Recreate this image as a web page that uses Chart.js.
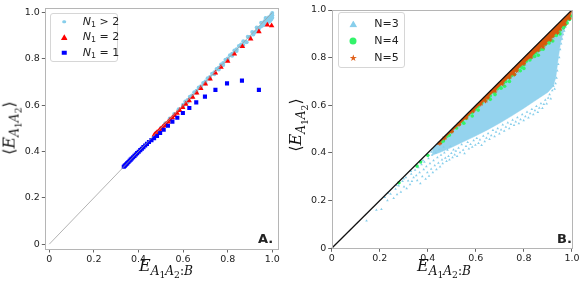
<!DOCTYPE html>
<html>
<head>
<meta charset="utf-8">
<script src="https://cdn.jsdelivr.net/npm/chart.js@4"></script>
<style>
  html, body { margin: 0; padding: 0; background: #fff; }
  #fig { position: relative; width: 581px; height: 287px; overflow: hidden; font-family: "DejaVu Sans", sans-serif; color: #222; }
  canvas { position: absolute; top: 0; }
  #canvasA { left: 0; }
  #canvasB { left: 290px; }
  .math { position: absolute; font-family: "DejaVu Serif", "Liberation Serif", serif; font-style: italic; font-size: 16px; line-height: 16px; white-space: nowrap; color: #111; }
  .math .rm { font-style: normal; }
  .math sub { font-size: 0.76em; vertical-align: -0.32em; line-height: 0; }
  .xt { transform: translateX(-50%); }
  .yt { transform: translate(-50%, -50%) rotate(-90deg); }
  .leg { position: absolute; border: 1px solid #d6d6d6; border-radius: 3px; background: rgba(255,255,255,0.85); box-sizing: border-box; }
  .lt { position: absolute; font-size: 11px; line-height: 12px; transform: translateY(-50%); white-space: nowrap; }
  .lt sub { font-size: 0.72em; vertical-align: -0.25em; line-height: 0; }
  .mk { position: absolute; transform: translate(-50%, -50%); }
  .tag { position: absolute; font-weight: bold; font-size: 13px; line-height: 14px; }
</style>
</head>
<body>
<div id="fig">
  <canvas id="canvasA" width="290" height="287"></canvas>
  <canvas id="canvasB" width="291" height="287"></canvas>

  <!-- 轴标题 -->
  <div class="math xt" style="left:166px; top:258px;">E<sub>A<sub class="rm">1</sub>A<sub class="rm">2</sub><span class="rm">:</span>B</sub></div>
  <div class="math yt" style="left:10px; top:128px;"><span class="rm">⟨</span>E<sub>A<sub class="rm">1</sub>A<sub class="rm">2</sub></sub><span class="rm">⟩</span></div>
  <div class="math xt" style="left:444px; top:258px;">E<sub>A<sub class="rm">1</sub>A<sub class="rm">2</sub><span class="rm">:</span>B</sub></div>
  <div class="math yt" style="left:296px; top:125px;"><span class="rm">⟨</span>E<sub>A<sub class="rm">1</sub>A<sub class="rm">2</sub></sub><span class="rm">⟩</span></div>

  <!-- 图例 A -->
  <div class="leg" style="left:50px; top:12.5px; width:68px; height:49px;"></div>
  <div class="mk" style="left:64.3px; top:21.7px; width:3.6px; height:3.6px; border-radius:50%; background:#87ceeb;"></div>
  <div class="mk" style="left:64.3px; top:37.3px; width:7px; height:6px; background:#ff0000; clip-path:polygon(50% 0, 100% 100%, 0 100%);"></div>
  <div class="mk" style="left:64.3px; top:52.7px; width:4.5px; height:4.5px; background:#0000ff;"></div>
  <div class="lt" style="left:82.7px; top:21.7px;"><i>N</i><sub>1</sub> &gt; 2</div>
  <div class="lt" style="left:82.7px; top:37.3px;"><i>N</i><sub>1</sub> = 2</div>
  <div class="lt" style="left:82.7px; top:52.7px;"><i>N</i><sub>1</sub> = 1</div>

  <!-- 图例 B -->
  <div class="leg" style="left:337.7px; top:12.3px; width:67.5px; height:55.5px;"></div>
  <div class="mk" style="left:353.3px; top:24px; width:8px; height:7px; background:#87ceeb; clip-path:polygon(50% 0, 100% 100%, 0 100%);"></div>
  <div class="mk" style="left:353.3px; top:40.7px; width:7px; height:7px; border-radius:50%; background:#33f36a;"></div>
  <div class="mk" style="left:353.3px; top:58px; width:7.5px; height:7.5px; background:#e0601a; clip-path:polygon(50% 0, 61% 35%, 98% 35%, 68% 57%, 79% 91%, 50% 70%, 21% 91%, 32% 57%, 2% 35%, 39% 35%);"></div>
  <div class="lt" style="left:374.3px; top:24px;">N=3</div>
  <div class="lt" style="left:374.3px; top:40.7px;">N=4</div>
  <div class="lt" style="left:374.3px; top:58.3px;">N=5</div>

  <div class="tag" style="left:258px; top:232px;">A.</div>
  <div class="tag" style="left:557px; top:232px;">B.</div>
</div>

<script>
// 刻度
const tickValues = [0, 0.2, 0.4, 0.6, 0.8, 1.0];
const tickLabels = ['0', '0.2', '0.4', '0.6', '0.8', '1.0'];

// 对角参考线
const diagX = [0, 1];
const diagY = [0, 1];

// 面板 A: N1 = 1 (蓝色方块)
const n1EqX = [0.334, 0.338, 0.342, 0.346, 0.350, 0.355, 0.360, 0.365, 0.370, 0.376, 0.382, 0.388, 0.394, 0.401, 0.408, 0.415, 0.422, 0.430, 0.438, 0.447, 0.458, 0.470, 0.483, 0.497, 0.513, 0.532, 0.552, 0.574, 0.599, 0.628, 0.659, 0.698, 0.745, 0.797, 0.864, 0.940];
const n1EqY = [0.334, 0.338, 0.342, 0.346, 0.350, 0.355, 0.360, 0.365, 0.370, 0.375, 0.381, 0.387, 0.393, 0.399, 0.406, 0.412, 0.419, 0.426, 0.433, 0.441, 0.449, 0.458, 0.467, 0.480, 0.494, 0.511, 0.529, 0.546, 0.566, 0.588, 0.612, 0.637, 0.666, 0.694, 0.706, 0.666];

// 面板 A: N1 = 2 (红色三角)
const n2X = [0.471, 0.476, 0.482, 0.488, 0.494, 0.501, 0.508, 0.516, 0.524, 0.533, 0.542, 0.552, 0.562, 0.573, 0.585, 0.598, 0.612, 0.627, 0.643, 0.661, 0.679, 0.700, 0.721, 0.745, 0.770, 0.800, 0.830, 0.866, 0.903, 0.940, 0.978, 0.997];
const n2Y = [0.472, 0.476, 0.481, 0.486, 0.492, 0.498, 0.505, 0.512, 0.519, 0.528, 0.537, 0.546, 0.556, 0.566, 0.578, 0.591, 0.605, 0.620, 0.635, 0.653, 0.673, 0.692, 0.714, 0.739, 0.764, 0.790, 0.821, 0.854, 0.886, 0.918, 0.947, 0.943];

// 面板 A: N1 > 2 (浅蓝圆点)
const nGtX = [0.48, 0.50, 0.52, 0.54, 0.56, 0.58, 0.60, 0.62, 0.64, 0.66, 0.68, 0.70, 0.72, 0.74, 0.76, 0.78, 0.80, 0.82, 0.84, 0.86,
              0.60, 0.62, 0.64, 0.66, 0.68, 0.70, 0.72, 0.74, 0.76, 0.78, 0.80, 0.82, 0.84, 0.86, 0.88, 0.90, 0.92, 0.94, 0.96, 0.98,
              0.61, 0.63, 0.65, 0.67, 0.69, 0.71, 0.73, 0.75, 0.77, 0.79, 0.81, 0.83, 0.85, 0.87, 0.89, 0.91, 0.93, 0.95, 0.97,
              0.96, 0.965, 0.97, 0.975, 0.98, 0.985, 0.99, 0.995, 1.0, 1.0, 1.0, 0.995, 0.99, 0.985, 0.975, 0.96, 0.95, 0.94, 0.93, 0.915, 0.90, 0.885, 0.87];
const nGtY = [0.482, 0.502, 0.522, 0.542, 0.562, 0.582, 0.602, 0.622, 0.642, 0.662, 0.682, 0.702, 0.722, 0.742, 0.762, 0.782, 0.802, 0.822, 0.842, 0.862,
              0.594, 0.614, 0.634, 0.654, 0.674, 0.694, 0.714, 0.734, 0.754, 0.774, 0.794, 0.814, 0.834, 0.854, 0.874, 0.894, 0.914, 0.934, 0.954, 0.974,
              0.616, 0.636, 0.656, 0.676, 0.696, 0.716, 0.736, 0.756, 0.776, 0.796, 0.816, 0.836, 0.856, 0.876, 0.896, 0.916, 0.936, 0.956, 0.976,
              0.955, 0.962, 0.958, 0.970, 0.968, 0.980, 0.975, 0.990, 0.998, 0.988, 0.978, 0.970, 0.965, 0.960, 0.950, 0.945, 0.940, 0.930, 0.920, 0.905, 0.890, 0.872, 0.860];

// 面板 B: N=3 密集区域轮廓
const n3CoreX = [0.42, 0.50, 0.60, 0.70, 0.80, 0.90, 1.00, 0.995, 0.982, 0.966, 0.952, 0.942, 0.933, 0.922, 0.90, 0.87, 0.84, 0.80, 0.75, 0.70, 0.65, 0.60, 0.55, 0.50, 0.45, 0.42, 0.42];
const n3CoreY = [0.42, 0.50, 0.60, 0.70, 0.80, 0.90, 1.00, 0.975, 0.945, 0.915, 0.860, 0.790, 0.718, 0.680, 0.655, 0.635, 0.615, 0.588, 0.556, 0.526, 0.498, 0.472, 0.448, 0.424, 0.402, 0.392, 0.42];

// 面板 B: N=3 稀疏散点
const n3X = [0.145, 0.186, 0.207, 0.221, 0.232, 0.245, 0.258, 0.266, 0.272, 0.279, 0.288, 0.295, 0.301, 0.309, 0.312, 0.318, 0.326, 0.331, 0.334, 0.341,
             0.347, 0.352, 0.356, 0.361, 0.366, 0.369, 0.374, 0.377, 0.383, 0.386, 0.391, 0.394, 0.398, 0.403, 0.405, 0.409, 0.414, 0.418, 0.421, 0.424,
             0.429, 0.433, 0.436, 0.440, 0.444, 0.447, 0.451, 0.455, 0.459, 0.462, 0.466, 0.469, 0.473, 0.478, 0.482, 0.486, 0.490, 0.494, 0.498, 0.503,
             0.507, 0.512, 0.517, 0.522, 0.528, 0.534, 0.541, 0.547, 0.553, 0.559, 0.566, 0.571, 0.578, 0.585, 0.591, 0.598, 0.604, 0.611, 0.617, 0.624,
             0.631, 0.637, 0.644, 0.651, 0.657, 0.664, 0.671, 0.678, 0.684, 0.691, 0.698, 0.705, 0.712, 0.718, 0.725, 0.733, 0.739, 0.746, 0.753, 0.759,
             0.766, 0.773, 0.779, 0.786, 0.793, 0.799, 0.806, 0.813, 0.819, 0.826, 0.833, 0.839, 0.846, 0.852, 0.858, 0.864, 0.871, 0.877, 0.883, 0.889,
             0.895, 0.901, 0.907, 0.912, 0.918, 0.923, 0.928, 0.932, 0.936, 0.939, 0.943, 0.947, 0.951, 0.955, 0.959, 0.963, 0.968, 0.973, 0.979, 0.986,
             0.993, 0.235, 0.270, 0.300, 0.330, 0.355, 0.380, 0.400, 0.415];
const n3Y = [0.116, 0.161, 0.164, 0.214, 0.201, 0.228, 0.210, 0.249, 0.226, 0.262, 0.236, 0.281, 0.258, 0.297, 0.251, 0.283, 0.268, 0.312, 0.281, 0.297,
             0.329, 0.306, 0.284, 0.339, 0.318, 0.272, 0.352, 0.301, 0.331, 0.362, 0.291, 0.343, 0.318, 0.377, 0.303, 0.356, 0.333, 0.392, 0.318, 0.368,
             0.347, 0.401, 0.331, 0.381, 0.358, 0.415, 0.342, 0.392, 0.372, 0.356, 0.425, 0.401, 0.379, 0.365, 0.412, 0.386, 0.372, 0.428, 0.399, 0.381,
             0.414, 0.393, 0.408, 0.386, 0.421, 0.402, 0.436, 0.412, 0.398, 0.428, 0.445, 0.418, 0.437, 0.425, 0.452, 0.433, 0.462, 0.441, 0.455, 0.432,
             0.471, 0.448, 0.463, 0.482, 0.458, 0.473, 0.495, 0.469, 0.488, 0.503, 0.481, 0.497, 0.518, 0.492, 0.509, 0.527, 0.503, 0.521, 0.538, 0.516,
             0.531, 0.549, 0.524, 0.541, 0.561, 0.536, 0.553, 0.572, 0.548, 0.566, 0.583, 0.561, 0.578, 0.596, 0.571, 0.589, 0.608, 0.588, 0.604, 0.622,
             0.607, 0.631, 0.645, 0.628, 0.662, 0.681, 0.668, 0.692, 0.715, 0.745, 0.772, 0.801, 0.834, 0.858, 0.878, 0.897, 0.912, 0.928, 0.944, 0.958,
             0.972, 0.232, 0.265, 0.292, 0.323, 0.346, 0.368, 0.390, 0.404];

// 面板 B: N=4 (绿色圆点)
const n4X = [0.280, 0.355, 0.370, 0.400, 0.455, 0.465, 0.480, 0.490, 0.500, 0.520, 0.530, 0.545, 0.560, 0.570, 0.585, 0.600, 0.610, 0.625, 0.640, 0.650,
             0.660, 0.675, 0.690, 0.700, 0.715, 0.725, 0.740, 0.750, 0.760, 0.775, 0.790, 0.800, 0.810, 0.825, 0.840, 0.850, 0.860, 0.870, 0.880, 0.890,
             0.900, 0.910, 0.920, 0.930, 0.940, 0.950, 0.960, 0.970, 0.975, 0.980, 0.985, 0.990, 0.995, 0.720, 0.800, 0.860, 0.920, 0.610, 0.680, 0.550,
             0.585, 0.740, 0.660, 0.830, 0.880, 0.950, 0.905, 0.935, 0.965, 0.845, 0.785, 0.705];
const n4Y = [0.275, 0.345, 0.362, 0.390, 0.445, 0.450, 0.470, 0.475, 0.490, 0.505, 0.520, 0.530, 0.545, 0.560, 0.570, 0.585, 0.595, 0.610, 0.620, 0.635,
             0.640, 0.655, 0.670, 0.675, 0.695, 0.700, 0.715, 0.725, 0.730, 0.750, 0.760, 0.770, 0.785, 0.790, 0.810, 0.820, 0.830, 0.835, 0.850, 0.855,
             0.870, 0.875, 0.890, 0.895, 0.910, 0.915, 0.930, 0.935, 0.955, 0.945, 0.965, 0.960, 0.975, 0.680, 0.755, 0.810, 0.870, 0.580, 0.645, 0.525,
             0.555, 0.700, 0.625, 0.800, 0.835, 0.900, 0.862, 0.893, 0.925, 0.805, 0.745, 0.672];

// 面板 B: N=5 (橙色星形) 紧贴对角线的条带
const n5BandX = [0.44, 0.60, 0.80, 1.00, 0.995, 0.970, 0.930, 0.880, 0.820, 0.750, 0.680, 0.600, 0.520, 0.440, 0.44];
const n5BandY = [0.44, 0.60, 0.80, 1.00, 0.978, 0.942, 0.898, 0.850, 0.794, 0.728, 0.662, 0.586, 0.509, 0.435, 0.44];
const n5X = [0.45, 0.47, 0.50, 0.53, 0.56, 0.59, 0.62, 0.65, 0.68, 0.71, 0.74, 0.77, 0.80, 0.83, 0.86, 0.89, 0.92, 0.95, 0.97, 0.99, 0.88, 0.91, 0.94, 0.76, 0.64];
const n5Y = [0.44, 0.462, 0.49, 0.52, 0.548, 0.577, 0.605, 0.632, 0.66, 0.69, 0.718, 0.745, 0.775, 0.803, 0.832, 0.86, 0.89, 0.92, 0.94, 0.965, 0.845, 0.875, 0.905, 0.73, 0.618];

// 组合坐标
function toPoints(xs, ys) {
    return xs.map((x, i) => ({ x: x, y: ys[i] }));
}

// 四周边框 (类似 matplotlib 的 spines)
const framePlugin = {
    id: 'frame',
    afterDraw(chart) {
        const a = chart.chartArea;
        const ctx = chart.ctx;
        ctx.save();
        ctx.strokeStyle = '#b5b5b5';
        ctx.lineWidth = 1;
        ctx.strokeRect(Math.round(a.left) + 0.5, Math.round(a.top) + 0.5, Math.round(a.right - a.left), Math.round(a.bottom - a.top));
        ctx.restore();
    }
};

function axisOptions(min, max, size, isY) {
    return {
        type: 'linear',
        min: min,
        max: max,
        afterBuildTicks: scale => { scale.ticks = tickValues.map(v => ({ value: v })); },
        afterFit: scale => { if (isY) scale.width = size; else scale.height = size; },
        border: { display: false },
        grid: { drawOnChartArea: false, drawTicks: true, tickLength: 3.5, color: '#666' },
        ticks: {
            padding: isY ? 2 : 1.5,
            maxRotation: 0,
            color: '#222',
            font: { family: 'DejaVu Sans', size: 9.5 },
            callback: v => tickLabels[tickValues.indexOf(v)]
        }
    };
}

function baseOptions(padding, xs, ys) {
    return {
        responsive: false,
        animation: false,
        events: [],
        layout: { padding: padding },
        plugins: { legend: { display: false }, tooltip: { enabled: false } },
        scales: { x: xs, y: ys }
    };
}

// 面板 A
new Chart(document.getElementById('canvasA'), {
    type: 'scatter',
    data: {
        datasets: [
            { data: toPoints(diagX, diagY), showLine: true, borderColor: '#a0a0a0', borderWidth: 0.8, pointRadius: 0, order: 0 },
            { data: toPoints(n1EqX, n1EqY), pointStyle: 'rect', pointRadius: 2.9, backgroundColor: '#0000ff', borderWidth: 0, order: 1 },
            { data: toPoints(n2X, n2Y), pointStyle: 'triangle', pointRadius: 3.2, backgroundColor: '#ff0000', borderWidth: 0, order: 2 },
            { data: toPoints(nGtX, nGtY), pointStyle: 'circle', pointRadius: 2, backgroundColor: '#87ceeb', borderWidth: 0, order: 3 }
        ]
    },
    options: baseOptions({ left: 0, right: 11.7, top: 6.5, bottom: 0 },
        axisOptions(-0.018, 1.027, 38, false),
        axisOptions(-0.021, 1.021, 45.3, true)),
    plugins: [framePlugin]
});

// 面板 B
new Chart(document.getElementById('canvasB'), {
    type: 'scatter',
    data: {
        datasets: [
            { data: toPoints(diagX, diagY), showLine: true, borderColor: '#111', borderWidth: 1.3, pointRadius: 0, order: 0 },
            { data: toPoints(n5BandX, n5BandY), showLine: true, fill: 'shape', backgroundColor: '#d9580d', borderColor: '#d9580d', borderWidth: 0.5, pointRadius: 0, order: 1 },
            { data: toPoints(n5X, n5Y), pointStyle: 'star', pointRadius: 2.2, borderColor: '#d9580d', borderWidth: 1, order: 2 },
            { data: toPoints(n4X, n4Y), pointStyle: 'circle', pointRadius: 1.8, backgroundColor: '#33f36a', borderWidth: 0, order: 3 },
            { data: toPoints(n3X, n3Y), pointStyle: 'triangle', pointRadius: 1.5, backgroundColor: '#87ceeb', borderWidth: 0, order: 4 },
            { data: toPoints(n3CoreX, n3CoreY), showLine: true, fill: 'shape', backgroundColor: '#94d3ee', borderColor: '#94d3ee', borderWidth: 0.5, pointRadius: 0, order: 5 }
        ]
    },
    options: baseOptions({ left: 0, right: 7.7, top: 10, bottom: 0 },
        axisOptions(0, 1, 38.7, false),
        axisOptions(0, 1, 41.7, true)),
    plugins: [framePlugin]
});
</script>
</body>
</html>
